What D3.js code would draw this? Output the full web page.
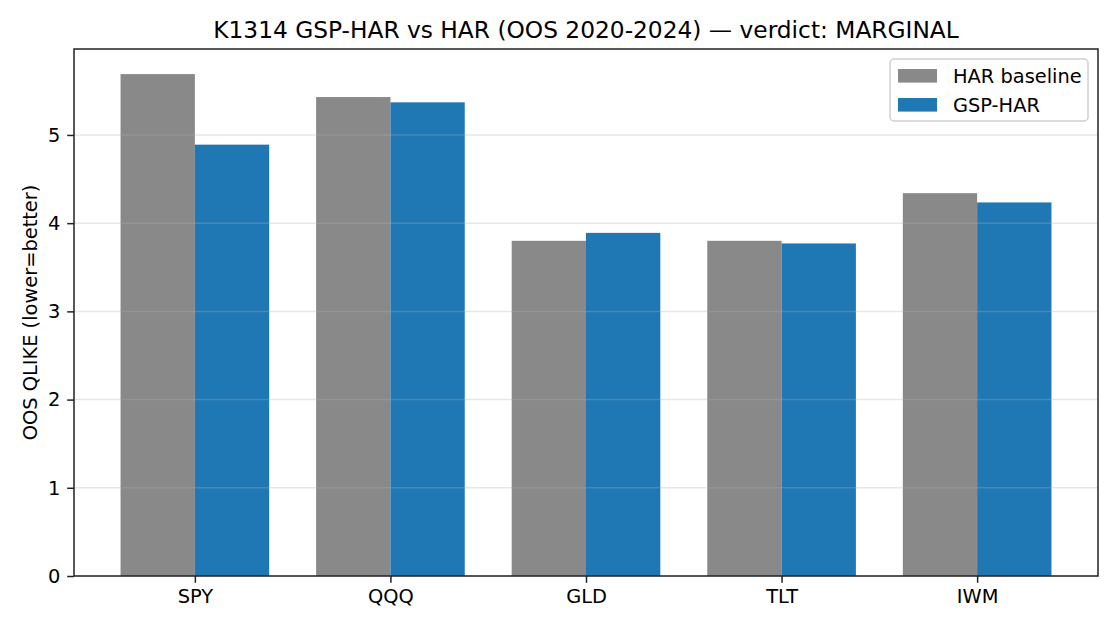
<!DOCTYPE html>
<html>
<head>
<meta charset="utf-8">
<script src="https://cdn.jsdelivr.net/npm/d3@7"></script>
<style>
  body { margin: 0; background: #fff; }
  svg text { font-family: "DejaVu Sans", sans-serif; fill: #000; }
</style>
</head>
<body>
<svg id="chart" width="1120" height="630"></svg>
<script>
// data
var tickers = ["SPY", "QQQ", "GLD", "TLT", "IWM"];
var harBaseline = [5.69, 5.43, 3.80, 3.80, 4.34];
var gspHar = [4.89, 5.37, 3.89, 3.77, 4.235];
var yTicks = [0, 1, 2, 3, 4, 5];
var seriesNames = ["HAR baseline", "GSP-HAR"];
var seriesColors = ["#898989", "#1f77b4"];

function draw_chart()
{
    var svg = d3.select("svg#chart");
    var margin = {top: 49, right: 22, bottom: 54, left: 74},
        width = 1120 - margin.left - margin.right,
        height = 630 - margin.top - margin.bottom;

    var g = svg.append("g")
        .attr("transform", "translate(" + margin.left + "," + margin.top + ")");

    var barW = 0.38;
    var x = d3.scaleLinear()
        .domain([-0.618, tickers.length - 1 + 0.618])
        .range([0, width]);
    var y = d3.scaleLinear()
        .domain([0, d3.max(harBaseline) * 1.05])
        .range([height, 0]);

    // bars
    var series = [harBaseline, gspHar];
    series.forEach(function (vals, s) {
        g.selectAll(".bar" + s)
            .data(vals)
            .enter()
            .append("rect")
            .attr("x", function (d, i) { return x(i + (s - 1) * barW); })
            .attr("y", function (d) { return y(d); })
            .attr("width", x(barW) - x(0))
            .attr("height", function (d) { return y(0) - y(d); })
            .attr("fill", seriesColors[s]);
    });

    // horizontal grid on top of bars
    g.append("g")
        .selectAll("line")
        .data(yTicks)
        .enter()
        .append("line")
        .attr("x1", 0).attr("x2", width)
        .attr("y1", function (d) { return y(d); })
        .attr("y2", function (d) { return y(d); })
        .attr("stroke", "#b0b0b0")
        .attr("stroke-opacity", 0.3)
        .attr("stroke-width", 1.5);

    // axes
    var yAxis = g.append("g")
        .call(d3.axisLeft(y).tickValues(yTicks).tickSize(6.8).tickPadding(6.8).tickFormat(d3.format("d")));
    var xAxis = g.append("g")
        .attr("transform", "translate(0," + height + ")")
        .call(d3.axisBottom(x).tickValues(d3.range(tickers.length)).tickSize(6.8).tickPadding(6.8)
            .tickFormat(function (d) { return tickers[d]; }));
    [xAxis, yAxis].forEach(function (ax) {
        ax.select(".domain").remove();
        ax.selectAll("line").attr("stroke", "#222").attr("stroke-width", 1.5);
        ax.selectAll("text").attr("font-size", "19.4px").attr("font-family", "DejaVu Sans").attr("fill", "#000");
    });

    // frame
    g.append("rect")
        .attr("width", width).attr("height", height)
        .attr("fill", "none")
        .attr("stroke", "#222")
        .attr("stroke-width", 1.5);

    // title and y label
    svg.append("text")
        .attr("x", margin.left + width / 2)
        .attr("y", 38)
        .attr("text-anchor", "middle")
        .attr("font-size", "23.3px")
        .text("K1314 GSP-HAR vs HAR (OOS 2020-2024) \u2014 verdict: MARGINAL");
    svg.append("text")
        .attr("transform", "translate(37," + (margin.top + height / 2) + ")rotate(-90)")
        .attr("text-anchor", "middle")
        .attr("font-size", "19.4px")
        .text("OOS QLIKE (lower=better)");

    // legend
    var lg = svg.append("g").attr("transform", "translate(890,59)");
    lg.append("rect")
        .attr("width", 198).attr("height", 62)
        .attr("rx", 4)
        .attr("fill", "#fff").attr("fill-opacity", 0.8)
        .attr("stroke", "#d0d0d0").attr("stroke-width", 1.5);
    seriesNames.forEach(function (name, i) {
        lg.append("rect")
            .attr("x", 8).attr("y", 10 + i * 29)
            .attr("width", 39).attr("height", 13.6)
            .attr("fill", seriesColors[i]);
        lg.append("text")
            .attr("x", 63).attr("y", 17 + i * 29)
            .attr("dy", "0.35em")
            .attr("font-size", "19.4px")
            .text(name);
    });
}

draw_chart();
</script>
</body>
</html>
